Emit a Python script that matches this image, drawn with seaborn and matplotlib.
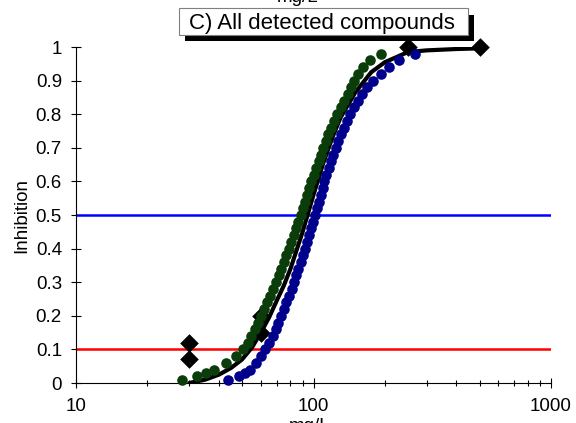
import matplotlib
matplotlib.use("Agg")
import matplotlib.pyplot as plt
from matplotlib.patches import Rectangle
from matplotlib.ticker import FixedLocator, FixedFormatter, NullFormatter
import seaborn as sns
import pandas as pd

# ---------------- data ----------------
green_x = [28.0, 32.3, 35.1, 38.0, 43.0, 47.2, 50.7, 52.9, 54.8, 56.6, 58.3, 60.0,
           61.8, 63.8, 65.7, 67.6, 69.5, 71.4, 73.3, 75.1, 76.9, 78.8, 80.7, 82.6,
           84.4, 86.3, 88.3, 90.1, 91.9, 93.8, 95.7, 97.7, 100.2, 102.8, 105.4, 107.6,
           109.9, 112.4, 115.1, 118.3, 121.9, 125.7, 130.0, 134.9, 139.4, 143.3, 147.9,
           153.8, 161.1, 172.2, 193.2]
blue_x = [43.6, 48.4, 51.5, 53.9, 57.5, 60.3, 62.5, 65.0, 67.2, 69.2, 71.1, 72.8,
          74.8, 76.9, 78.9, 80.8, 82.7, 84.5, 86.4, 88.3, 90.1, 92.0, 93.8, 95.7,
          97.5, 99.5, 101.4, 103.3, 105.2, 107.2, 109.2, 111.2, 113.4, 115.7, 118.1,
          121.0, 124.1, 127.4, 130.9, 134.6, 138.6, 143.0, 147.9, 153.5, 160.0, 168.3,
          178.6, 191.9, 207.0, 228.0, 268.5]
dot_y = [0.01, 0.02, 0.03, 0.04, 0.06, 0.08, 0.10, 0.12, 0.14, 0.16, 0.18, 0.20,
         0.22, 0.24, 0.26, 0.28, 0.30, 0.32, 0.34, 0.36, 0.38, 0.40, 0.42, 0.44,
         0.46, 0.48, 0.50, 0.52, 0.54, 0.56, 0.58, 0.60, 0.62, 0.64, 0.66, 0.68,
         0.70, 0.72, 0.74, 0.76, 0.78, 0.80, 0.82, 0.84, 0.86, 0.88, 0.90, 0.92,
         0.94, 0.96, 0.98]

fit_x = [30, 35, 40, 45, 50, 55, 60, 65, 70, 75, 80, 90, 100, 110, 120, 130,
         150, 175, 200, 250, 300, 400, 500]
fit_y = [0.0, 0.01, 0.025, 0.045, 0.07, 0.105, 0.15, 0.195, 0.245, 0.29, 0.34,
         0.45, 0.56, 0.655, 0.73, 0.79, 0.865, 0.925, 0.955, 0.985, 0.99, 0.994, 0.996]

obs_x = [30, 30, 60, 60, 250, 500]
obs_y = [0.12, 0.07, 0.20, 0.15, 1.0, 1.0]

ec10_level = 0.1
ec50_level = 0.5

y_ticks = [0, 0.1, 0.2, 0.3, 0.4, 0.5, 0.6, 0.7, 0.8, 0.9, 1]
y_tick_labels = ["0", "0.1", "0.2", "0.3", "0.4", "0.5", "0.6", "0.7", "0.8", "0.9", "1"]
x_ticks = [10, 100, 1000]
x_tick_labels = ["10", "100", "1000"]
x_minor = [20, 30, 40, 50, 60, 70, 80, 90, 200, 300, 400, 500, 600, 700, 800, 900]

title = "C) All detected compounds"

# ---------------- styling ----------------
sns.set_theme(style="ticks")
plt.rcParams["font.family"] = ["Liberation Sans", "DejaVu Sans"]

W, H = 576, 423
fig = plt.figure(figsize=(W / 100, H / 100), dpi=100)
fig.patch.set_facecolor("white")
ax = fig.add_axes([76 / W, (H - 383) / H, 475 / W, 336 / H])
ax.set_facecolor("white")
ax.set_xscale("log")

ax.axhline(ec10_level, color="#ff0000", lw=1.8, zorder=1)
ax.axhline(ec50_level, color="#0000ff", lw=1.8, zorder=1)

fit_df = pd.DataFrame({"x": fit_x, "y": fit_y})
sns.lineplot(data=fit_df, x="x", y="y", color="black", lw=3, sort=False,
             estimator=None, ax=ax, zorder=2)

obs_df = pd.DataFrame({"x": obs_x, "y": obs_y})
sns.scatterplot(data=obs_df, x="x", y="y", marker="D", s=90, color="black",
                edgecolor="black", linewidth=0, ax=ax, zorder=3, clip_on=False)

g_df = pd.DataFrame({"x": green_x, "y": dot_y})
b_df = pd.DataFrame({"x": blue_x, "y": dot_y})
sns.scatterplot(data=g_df, x="x", y="y", color="#0b3d0b", s=58, linewidth=0,
                ax=ax, zorder=4, clip_on=False)
sns.scatterplot(data=b_df, x="x", y="y", color="#00008c", s=58, linewidth=0,
                ax=ax, zorder=4, clip_on=False)

ax.set_xlim(10, 1000)
ax.set_ylim(0, 1)
ax.xaxis.set_major_locator(FixedLocator(x_ticks))
ax.xaxis.set_major_formatter(FixedFormatter(x_tick_labels))
ax.xaxis.set_minor_locator(FixedLocator(x_minor))
ax.xaxis.set_minor_formatter(NullFormatter())
ax.yaxis.set_major_locator(FixedLocator(y_ticks))
ax.yaxis.set_major_formatter(FixedFormatter(y_tick_labels))

ax.tick_params(axis="both", which="major", direction="inout", length=7.2, width=0.8,
               color="black", labelcolor="black", labelsize=13.5)
ax.tick_params(axis="x", which="major", pad=7)
ax.tick_params(axis="y", which="major", pad=6.5)
ax.tick_params(axis="x", which="minor", direction="inout", length=4.8, width=0.8,
               color="black")
for s in ["top", "right"]:
    ax.spines[s].set_visible(False)
for s in ["left", "bottom"]:
    ax.spines[s].set_color("black")
    ax.spines[s].set_linewidth(0.8)

ax.set_ylabel("Inhibition", fontsize=13.5, color="black", va="center")
ax.yaxis.set_label_coords((21.7 - 76) / 475, 0.5)
ax.set_xlabel("mg/L", fontsize=13.5, color="black", va="baseline")
ax.xaxis.set_label_coords((310 - 76) / 475, (383 - 431) / 336)

# top (cut-off) unit label
fig.text(298 / W, 1 - 2 / H, "mg/L", ha="center", va="baseline", fontsize=13.5,
         color="black")

# title box with shadow
fig.patches.append(Rectangle((185 / W, 1 - 41 / H), (474 - 185) / W, (41 - 15) / H,
                             transform=fig.transFigure, facecolor="black",
                             edgecolor="none", zorder=5))
fig.patches.append(Rectangle((179 / W, 1 - 35 / H), (468 - 179) / W, (35 - 8) / H,
                             transform=fig.transFigure, facecolor="white",
                             edgecolor="#808080", lw=0.8, zorder=6))
fig.text(322 / W, 1 - 29 / H, title, ha="center", va="baseline", fontsize=16,
         color="black", zorder=7)

fig.savefig("out.png", dpi=100, facecolor="white")
